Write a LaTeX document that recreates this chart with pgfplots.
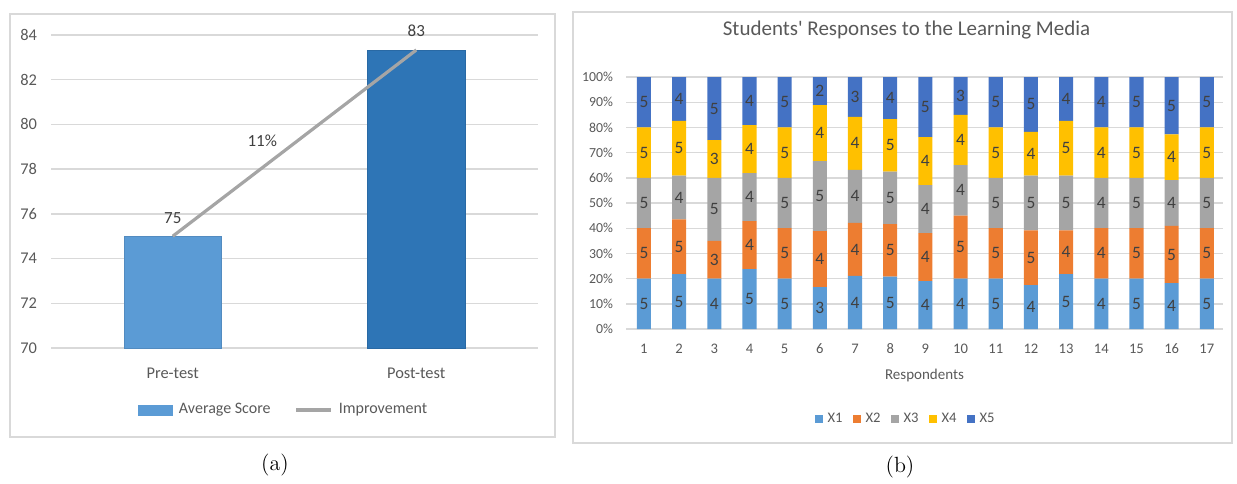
\documentclass[border=0pt]{standalone}
\usepackage{pgfplots}
\pgfplotsset{compat=1.18}
\usepackage{pgfplotstable}
\usepackage{fontspec}
\setsansfont{Carlito}
\renewcommand{\familydefault}{\sfdefault}
\definecolor{cA}{HTML}{5B9BD5}
\definecolor{cB}{HTML}{ED7D31}
\definecolor{cC}{HTML}{A5A5A5}
\definecolor{cD}{HTML}{FFC000}
\definecolor{cE}{HTML}{4472C4}
\definecolor{cPost}{HTML}{2E75B6}
\definecolor{gridc}{HTML}{D9D9D9}
\definecolor{txt}{HTML}{595959}
\definecolor{lab}{HTML}{404040}
\pgfplotsset{/pgf/number format/assume math mode=true}
\pgfplotstableread{
r a b c d e
1 5 5 5 5 5
2 5 5 4 5 4
3 4 3 5 3 5
4 5 4 4 4 4
5 5 5 5 5 5
6 3 4 5 4 2
7 4 4 4 4 3
8 5 5 5 5 4
9 4 4 4 4 5
10 4 5 4 4 3
11 5 5 5 5 5
12 4 5 5 4 5
13 5 4 5 5 4
14 4 4 4 4 4
15 5 5 5 5 5
16 4 5 4 4 5
17 5 5 5 5 5
}\resp
\newcommand\tot{(\thisrow{a}+\thisrow{b}+\thisrow{c}+\thisrow{d}+\thisrow{e})}
\begin{document}
\begin{tikzpicture}
\path[use as bounding box] (0pt,0pt) rectangle (618.5pt,241.5pt);
\draw[gridc, line width=0.9pt] (5pt,23pt) rectangle (277.5pt,234.5pt);
\draw[gridc, line width=0.9pt] (286.5pt,20pt) rectangle (616pt,235.5pt);
\node[font=\rmfamily\fontsize{11}{13}\selectfont] at (137.5pt,9pt) {(a)};
\node[font=\rmfamily\fontsize{11}{13}\selectfont] at (450pt,8pt) {(b)};
% ---------- (a)
\begin{axis}[
  at={(25.5pt,67.5pt)}, anchor=south west, scale only axis,
  width=243.5pt, height=156.5pt,
  xmin=-0.5, xmax=1.5, ymin=70, ymax=84,
  ytick={70,72,...,84},
  xtick={0,1}, xticklabels={Pre-test,Post-test},
  ymajorgrids, grid style={gridc, line width=0.7pt},
  axis line style={draw=none}, major tick length=0pt,
  tick label style={font=\fontsize{8.2}{9}\selectfont, text=txt},
  yticklabel style={anchor=east, xshift=-3.5pt},
  xticklabel style={anchor=center, yshift=-12.5pt},
  ybar, bar width=0.4, clip=false,
  legend style={at={(0.48,-0.198)}, anchor=center, draw=none, fill=none,
    legend columns=2, font=\fontsize{8}{9}\selectfont, text=txt,
    /tikz/every even column/.append style={column sep=10pt},
    /tikz/every odd column/.append style={column sep=1pt}},
]
\addplot[fill=cA, draw=cA!90!black, line width=0.3pt, bar shift=0pt,
  nodes near coords={\pgfmathprintnumber[fixed,precision=0]{\pgfplotspointmeta}},
  nodes near coords style={font=\fontsize{8.5}{9}\selectfont, text=lab, yshift=3pt},
  legend image code/.code={\fill[cA] (0pt,-2.5pt) rectangle (17pt,2.5pt);}]
  coordinates {(0,75)};
\addlegendentry{Average Score}
\addplot[fill=cPost, draw=cPost!90!black, line width=0.3pt, bar shift=0pt, forget plot,
  nodes near coords={\pgfmathprintnumber[fixed,precision=0]{\pgfplotspointmeta}},
  nodes near coords style={font=\fontsize{8.5}{9}\selectfont, text=lab, yshift=3pt}]
  coordinates {(1,83.33)};
\addplot[sharp plot, cC, line width=1.6pt, mark=none,
  legend image code/.code={\draw[cC, line width=1.6pt] (0pt,0pt) -- (17.5pt,0pt);}]
  coordinates {(0,75) (1,83.33)}
  node[pos=0.5, anchor=east, inner sep=0pt, xshift=-8pt, yshift=1pt, font=\fontsize{8.5}{9}\selectfont, text=lab] {11\%};
\addlegendentry{Improvement}
\end{axis}
% ---------- (b)
\begin{axis}[
  at={(313pt,77pt)}, anchor=south west, scale only axis,
  width=298.5pt, height=126pt,
  xmin=0.49, xmax=17.46, ymin=0, ymax=100,
  ytick={0,10,...,100}, yticklabel={\pgfmathprintnumber{\tick}\%},
  xtick={1,...,17},
  ymajorgrids, grid style={gridc, line width=0.7pt},
  axis line style={draw=none}, major tick length=0pt,
  tick label style={font=\fontsize{6.9}{8}\selectfont, text=txt},
  yticklabel style={anchor=east, xshift=-3pt},
  xticklabel style={anchor=center, yshift=-10pt, font=\fontsize{7.3}{8}\selectfont},
  ybar stacked, bar width=0.4,
  title={Students\textquotesingle{} Responses to the Learning Media},
  title style={at={(0.47,1)}, anchor=center, yshift=17.5pt, font=\fontsize{10.5}{12}\selectfont, text=txt},
  xlabel={Respondents},
  xlabel style={at={(0.5,0)}, anchor=center, yshift=-23pt, font=\fontsize{7.5}{9}\selectfont, text=txt},
  legend style={at={(0.47,-0.357)}, anchor=center, draw=none, fill=none,
    legend columns=5, font=\fontsize{7.3}{8}\selectfont, text=txt,
    /tikz/every even column/.append style={column sep=3pt},
    /tikz/every odd column/.append style={column sep=0.5pt}},
]
\addplot[fill=cA, draw=none, legend image code/.code={\fill[cA] (0pt,-2pt) rectangle (4pt,2pt);}]
  table[x=r, y expr={100*\thisrow{a}/\tot}] {\resp};
\addlegendentry{X1}
\addplot[fill=cB, draw=none, legend image code/.code={\fill[cB] (0pt,-2pt) rectangle (4pt,2pt);}]
  table[x=r, y expr={100*\thisrow{b}/\tot}] {\resp};
\addlegendentry{X2}
\addplot[fill=cC, draw=none, legend image code/.code={\fill[cC] (0pt,-2pt) rectangle (4pt,2pt);}]
  table[x=r, y expr={100*\thisrow{c}/\tot}] {\resp};
\addlegendentry{X3}
\addplot[fill=cD, draw=none, legend image code/.code={\fill[cD] (0pt,-2pt) rectangle (4pt,2pt);}]
  table[x=r, y expr={100*\thisrow{d}/\tot}] {\resp};
\addlegendentry{X4}
\addplot[fill=cE, draw=none, legend image code/.code={\fill[cE] (0pt,-2pt) rectangle (4pt,2pt);}]
  table[x=r, y expr={100*\thisrow{e}/\tot}] {\resp};
\addlegendentry{X5}
\end{axis}
% labels overlay
\begin{axis}[
  at={(313pt,77pt)}, anchor=south west, scale only axis,
  width=298.5pt, height=126pt,
  xmin=0.49, xmax=17.46, ymin=0, ymax=100,
  hide axis, clip=false,
  nodes near coords, point meta=explicit,
  nodes near coords style={anchor=center, inner sep=0pt, font=\fontsize{8.7}{9}\selectfont, text=lab},
]
\addplot[draw=none, mark=none] table[x=r, y expr={100*(\thisrow{a}/2)/\tot}, meta=a] {\resp};
\addplot[draw=none, mark=none] table[x=r, y expr={100*(\thisrow{a}+\thisrow{b}/2)/\tot}, meta=b] {\resp};
\addplot[draw=none, mark=none] table[x=r, y expr={100*(\thisrow{a}+\thisrow{b}+\thisrow{c}/2)/\tot}, meta=c] {\resp};
\addplot[draw=none, mark=none] table[x=r, y expr={100*(\thisrow{a}+\thisrow{b}+\thisrow{c}+\thisrow{d}/2)/\tot}, meta=d] {\resp};
\addplot[draw=none, mark=none] table[x=r, y expr={100*(\thisrow{a}+\thisrow{b}+\thisrow{c}+\thisrow{d}+\thisrow{e}/2)/\tot}, meta=e] {\resp};
\end{axis}
\end{tikzpicture}
\end{document}
